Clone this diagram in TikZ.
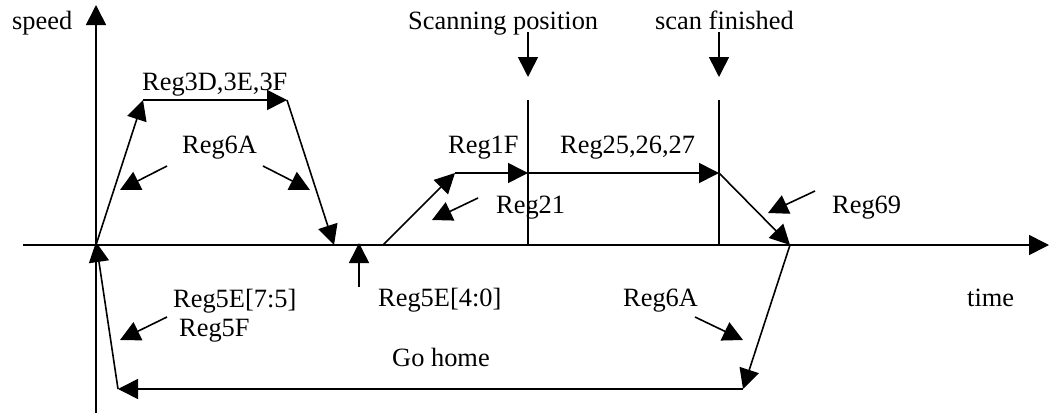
\documentclass[tikz,border=0pt]{standalone}
\usepackage{fontspec}
\setmainfont{Liberation Serif}
\usetikzlibrary{arrows.meta}
\begin{document}
\begin{tikzpicture}[x=1pt,y=-1pt,
  ln/.style={line width=1.6pt},
  arr/.style={ln,-{Triangle[length=20pt,width=20pt]}},
  lbl/.style={anchor=base west,inner sep=0pt,font=\fontsize{26.4}{30}\selectfont}]
\useasboundingbox (0,0) rectangle (1049,415);
% coordinates
\coordinate (O) at (96,245);
\coordinate (Ytop) at (96,5);
\coordinate (Ybot) at (96,413);
\coordinate (Xl) at (23,245);
\coordinate (Xr) at (1049,245);
\coordinate (A1) at (143,100);
\coordinate (A2) at (287,100);
\coordinate (A3) at (334,245);
\coordinate (B0) at (383,245);
\coordinate (B1) at (455,173);
\coordinate (S) at (528,173);
\coordinate (F) at (719,173);
\coordinate (E) at (790,245);
\coordinate (St) at (528,100);
\coordinate (Sb) at (528,245);
\coordinate (Ft) at (719,100);
\coordinate (Fb) at (719,245);
\coordinate (Sa) at (528,32);
\coordinate (Sae) at (528,77);
\coordinate (Fa) at (719,32);
\coordinate (Fae) at (719,77);
\coordinate (R1) at (743,389);
\coordinate (R2) at (118,389);
\coordinate (O2) at (96,242);
% axes
\draw[arr] (Ybot) -- (Ytop);
\draw[arr] (Xl) -- (Xr);
% trapezoid
\draw[arr] (O) -- (A1);
\draw[arr] (A1) -- (A2);
\draw[arr] (A2) -- (A3);
% scan profile
\draw[arr] (B0) -- (B1);
\draw[arr] (B1) -- (S);
\draw[arr] (S) -- (F);
\draw[arr] (F) -- (E);
\draw[ln] (St) -- (Sb);
\draw[ln] (Ft) -- (Fb);
\draw[arr] (Sa) -- (Sae);
\draw[arr] (Fa) -- (Fae);
% go home
\draw[arr] (E) -- (R1);
\draw[arr] (R1) -- (R2);
\draw[arr] (R2) -- (O2);
% pointer arrows
\coordinate (p1a) at (167,166); \coordinate (p1b) at (120,190);
\coordinate (p2a) at (263,166); \coordinate (p2b) at (310,190);
\coordinate (p3a) at (478,198); \coordinate (p3b) at (432,220);
\coordinate (p4a) at (815,191); \coordinate (p4b) at (768,213);
\coordinate (p5a) at (167,317); \coordinate (p5b) at (120,340);
\coordinate (p6a) at (695,317); \coordinate (p6b) at (743,340);
\coordinate (p7a) at (359,287); \coordinate (p7b) at (359,243);
\draw[arr] (p1a) -- (p1b);
\draw[arr] (p2a) -- (p2b);
\draw[arr] (p3a) -- (p3b);
\draw[arr] (p4a) -- (p4b);
\draw[arr] (p5a) -- (p5b);
\draw[arr] (p6a) -- (p6b);
\draw[arr] (p7a) -- (p7b);
% labels
\node[lbl] (speed) at (12,29) {speed};
\node[lbl] (r3d) at (142,90) {Reg3D,3E,3F};
\node[lbl] (r6a) at (182,153) {Reg6A};
\node[lbl] (scanpos) at (408,29) {Scanning position};
\node[lbl] (scanfin) at (655,29) {scan finished};
\node[lbl] (r1f) at (448,153) {Reg1F};
\node[lbl] (r25) at (560,153) {Reg25,26,27};
\node[lbl] (r21) at (496,213) {Reg21};
\node[lbl] (r69) at (832,213) {Reg69};
\node[lbl] (r5e75) at (173,307) {Reg5E[7:5]};
\node[lbl] (r5f) at (179,336) {Reg5F};
\node[lbl] (r5e40) at (378,306) {Reg5E[4:0]};
\node[lbl] (r6b) at (623,306) {Reg6A};
\node[lbl] (time) at (967,306) {time};
\node[lbl] (gohome) at (392,366) {Go home};
\end{tikzpicture}
\end{document}
